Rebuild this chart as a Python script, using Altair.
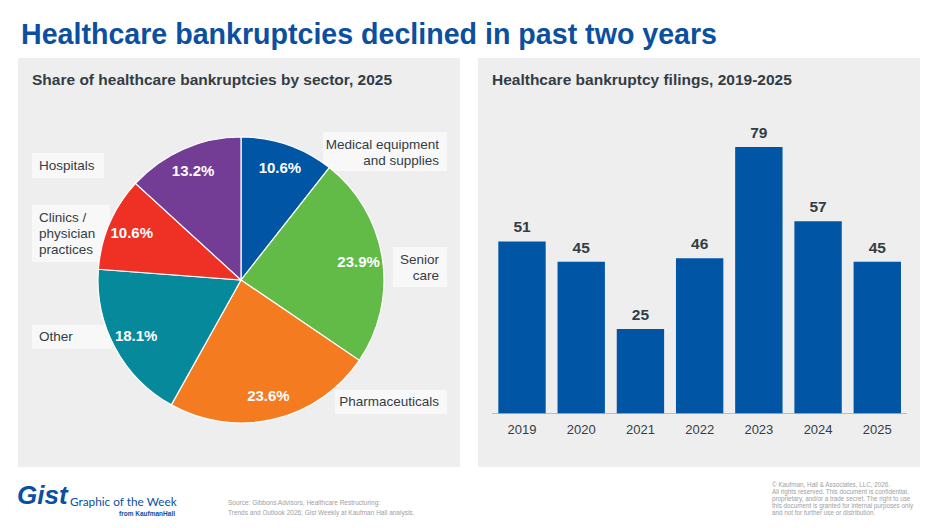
import altair as alt
import pandas as pd

# ---------------- data ----------------
sectors = ["Medical equipment and supplies", "Senior care", "Pharmaceuticals",
           "Other", "Clinics / physician practices", "Hospitals"]
shares = [10.6, 23.9, 23.6, 18.1, 10.6, 13.2]
sector_colors = ["#0055A5", "#62BB46", "#F47B20", "#07899C", "#EE3124", "#733C95"]

years = ["2019", "2020", "2021", "2022", "2023", "2024", "2025"]
filings = [51, 45, 25, 46, 79, 57, 45]

title_text = "Healthcare bankruptcies declined in past two years"
left_title = "Share of healthcare bankruptcies by sector, 2025"
right_title = "Healthcare bankruptcy filings, 2019-2025"
source_lines = ["Source: Gibbons Advisors, Healthcare Restructuring:",
                "Trends and Outlook 2026; Gist Weekly at Kaufman Hall analysis."]
copyright_lines = ["\u00a9 Kaufman, Hall & Associates, LLC, 2026.",
                   "All rights reserved. This document is confidential,",
                   "proprietary, and/or a trade secret. The right to use",
                   "this document is granted for internal purposes only",
                   "and not for further use or distribution."]

# ---------------- layout (pixels) ----------------
W, H = 938, 528
FONT = "Liberation Sans"
DARK = "#333D45"
PANEL = "#EEEEEE"
PIE_CX, PIE_CY, PIE_R = 241, 280, 143

one = pd.DataFrame({"a": [0]})

def rect(x, x2, y, y2, color):
    return alt.Chart(one).mark_rect(color=color).encode(
        x=alt.value(x), x2=alt.value(x2), y=alt.value(y), y2=alt.value(y2))

def label(text, x, y, size, color=DARK, weight="normal", align="left",
          style="normal", font=FONT, line_height=None, baseline="middle"):
    kw = dict(text=text, fontSize=size, color=color, fontWeight=weight,
              align=align, baseline=baseline, font=font, fontStyle=style)
    if line_height is not None:
        kw["lineHeight"] = line_height
    return alt.Chart(one).mark_text(**kw).encode(x=alt.value(x), y=alt.value(y))

layers = []

# panels
layers.append(rect(18, 460, 58, 467, PANEL))
layers.append(rect(478, 920, 58, 467, PANEL))

# main title + panel titles
layers.append(label(title_text, 21, 43.5, 28.6, color="#0B4FA1", weight="bold",
                    baseline="alphabetic"))
layers.append(label(left_title, 32, 80, 15.5, weight="bold"))
layers.append(label(right_title, 492, 80, 15.5, weight="bold"))

# external label boxes (drawn before the pie)
BOX = "#F8F8F8"
for (x, x2, y, y2) in [(323, 447, 132, 171), (393, 447, 247, 287),
                       (335, 447, 390, 414), (32, 104, 153, 178),
                       (32, 110, 205, 262), (32, 112, 325, 349)]:
    layers.append(rect(x, x2, y, y2, BOX))

# pie
pie_df = pd.DataFrame({"sector": sectors, "share": shares,
                       "idx": list(range(len(sectors)))})
pie_base = alt.Chart(pie_df)
pie = pie_base.mark_arc(radius=PIE_R, stroke="white", strokeWidth=1.2).encode(
    theta=alt.Theta("share:Q", stack=True),
    order=alt.Order("idx:Q"),
    color=alt.Color("sector:N", scale=alt.Scale(domain=sectors, range=sector_colors),
                    legend=None),
    x=alt.value(PIE_CX), y=alt.value(PIE_CY),
)
pie_text = pie_base.transform_calculate(
    lab="format(datum.share, '.1f') + '%'"
).mark_text(radius=119, fontSize=15, fontWeight="bold", color="white",
            font=FONT).encode(
    theta=alt.Theta("share:Q", stack=True),
    order=alt.Order("idx:Q"),
    text="lab:N",
    x=alt.value(PIE_CX), y=alt.value(PIE_CY),
)
layers += [pie, pie_text]

# external sector labels
LS = 13.5
layers.append(label(["Medical equipment", "and supplies"], 439, 145, LS, align="right", line_height=15.5))
layers.append(label(["Senior", "care"], 439, 260, LS, align="right", line_height=16))
layers.append(label("Pharmaceuticals", 439, 402, LS, align="right"))
layers.append(label("Hospitals", 39, 166, LS))
layers.append(label(["Clinics /", "physician", "practices"], 39, 218, LS, line_height=16))
layers.append(label("Other", 39, 337, LS))

# bar chart
bar_df = pd.DataFrame({"year": years, "filings": filings})
xs = alt.Scale(domain=years, range=[492.4, 906.9], paddingInner=0.2, paddingOuter=0.1)
ys = alt.Scale(domain=[0, 100], range=[413.3, 76.3])
bar_base = alt.Chart(bar_df)
bars = bar_base.mark_bar(color="#0055A5").encode(
    x=alt.X("year:N", scale=xs, axis=None),
    y=alt.Y("filings:Q", scale=ys, axis=None),
)
bar_vals = bar_base.mark_text(fontSize=15.5, fontWeight="bold", color=DARK,
                              baseline="bottom", dy=-6, font=FONT).encode(
    x=alt.X("year:N", scale=xs, axis=None),
    y=alt.Y("filings:Q", scale=ys, axis=None),
    text="filings:Q",
)
year_labels = bar_base.mark_text(fontSize=13, color=DARK, font=FONT).encode(
    x=alt.X("year:N", scale=xs, axis=None),
    y=alt.value(430),
    text="year:N",
)
baseline_rule = alt.Chart(one).mark_rule(color="#BDBDBD", strokeWidth=1).encode(
    x=alt.value(492), x2=alt.value(907), y=alt.value(413.5))
layers += [baseline_rule, bars, bar_vals, year_labels]

# footer
layers.append(label("Gist", 17, 504, 26, color="#0B4FA1", weight="bold",
                    style="italic", baseline="alphabetic"))
layers.append(label("Graphic of the Week", 70, 502, 11.8, color="#0B4FA1", font="Lato"))
layers.append(label("from KaufmanHall", 175, 514, 6.5, color="#0B4FA1", weight="bold",
                    align="right"))
layers.append(label(source_lines, 228, 503, 6.5, color="#A0A0A0", line_height=10))
layers.append(label(copyright_lines, 772, 485, 6.3, color="#A0A0A0", line_height=7.1))

chart = alt.layer(*layers).properties(
    width=W, height=H, background="white", padding=0,
    autosize=alt.AutoSizeParams(type="none"),
).configure_view(stroke=None).resolve_scale(color="independent")

chart.save("out.html", embed_options={"renderer": "svg", "actions": False})
